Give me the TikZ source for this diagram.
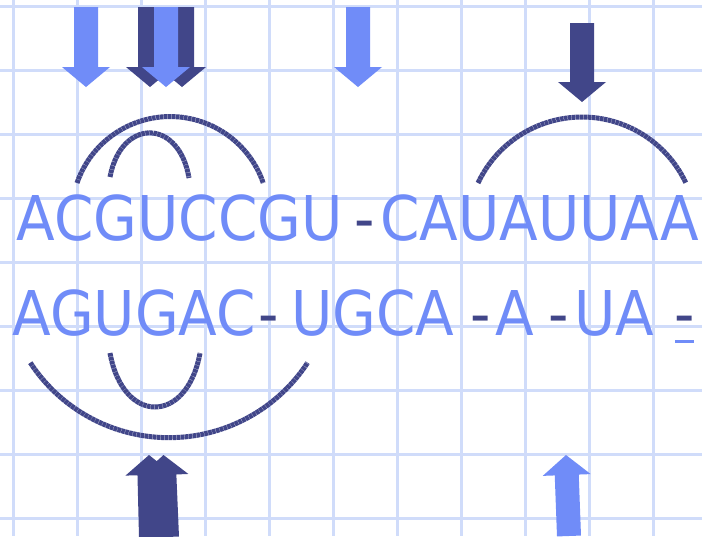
\documentclass[tikz,border=0pt]{standalone}
\usepackage{fontspec}
\usetikzlibrary{calc}
\newfontfamily\seqfont{DejaVu Sans}[FakeStretch=0.915]
\definecolor{gridblue}{RGB}{208,220,250}
\definecolor{basecol}{RGB}{112,140,248}
\definecolor{markcol}{RGB}{65,70,137}

% block arrow: #1 colour, #2 tail coordinate, #3 tip coordinate
\newcommand\blockarrow[3]{%
  \coordinate (bah) at ($(#3)!20pt!(#2)$);
  \fill[#1] ($(#2)!12pt!90:(#3)$) -- ($(bah)!12pt!90:(#3)$) -- ($(bah)!24pt!90:(#3)$)
    -- (#3) -- ($(bah)!24pt!-90:(#3)$) -- ($(bah)!12pt!-90:(#3)$)
    -- ($(#2)!12pt!-90:(#3)$) -- cycle;
}

\tikzset{
  seq/.style={inner sep=0pt, outer sep=0pt, text=basecol,
    font=\seqfont\fontsize{61.7}{70}\selectfont},
  gap/.style={seq, text=markcol},
  pairing/.style={draw=markcol, line width=5pt, dash pattern=on 3.5pt off 0.5pt},
  gridline/.style={draw=gridblue, line width=3pt},
}

\begin{document}
\begin{tikzpicture}[x=1pt,y=-1pt]
\useasboundingbox (0,0) rectangle (702,536);
\fill[white] (0,0) rectangle (702,536);

% squared paper
\foreach \k in {0,...,10} \draw[gridline] ({13.3+64*\k},0) -- ({13.3+64*\k},536);
\foreach \k in {0,...,8} \draw[gridline] (0,{6+64*\k}) -- (702,{6+64*\k});

% the two sequence rows
\node[seq, anchor=base east] (s1) at (342.5,240) {ACGUCCGU};
\node[gap, anchor=base] (g1) at (365,240) {-};
\node[seq, anchor=base east] (s2) at (699.5,240) {CAUAUUAA};

\node[seq, anchor=base east] (s3) at (256,335) {AGUGAC};
\node[gap, anchor=base] (g2) at (269,335) {-};
\node[seq, anchor=base east] (s4) at (454.5,335) {UGCA};
\node[gap, anchor=base] (g3) at (480.5,335) {-};
\node[seq, anchor=base] (s5) at (514.5,335) {A};
\node[gap, anchor=base] (g4) at (559,335) {-};
\node[seq, anchor=base east] (s6) at (654.5,335) {UA};
\node[gap, anchor=base] (g5) at (684.5,335) {-};
\draw[basecol, line width=3pt] (675,341.5) -- (694,341.5);

% base-pairing arcs (y axis points down, so angles run clockwise)
\draw[pairing] (77,183) arc[start angle=-161, end angle=-19, radius=98.5];
\draw[pairing] (110,177) .. controls (121,118) and (179,118) .. (189,178);
\draw[pairing] (478,183) arc[start angle=-154.8, end angle=-25.2, radius=114.9];
\draw[pairing] (30.3,362.7) arc[start angle=146.8, end angle=33.2, radius=165.7];
\draw[pairing] (110,353) .. controls (123,425) and (187,425) .. (200,353);

% markers above
\coordinate (a1t) at (86,7);   \coordinate (a1h) at (86,87);
\coordinate (a2t) at (150,7);  \coordinate (a2h) at (150,87);
\coordinate (a3t) at (182,7);  \coordinate (a3h) at (182,87);
\coordinate (a4t) at (166,7);  \coordinate (a4h) at (166,87);
\coordinate (a5t) at (358,7);  \coordinate (a5h) at (358,87);
\coordinate (a6t) at (582,23); \coordinate (a6h) at (582,102);
\blockarrow{basecol}{a1t}{a1h}
\blockarrow{markcol}{a2t}{a2h}
\blockarrow{markcol}{a3t}{a3h}
\blockarrow{basecol}{a4t}{a4h}
\blockarrow{basecol}{a5t}{a5h}
\blockarrow{markcol}{a6t}{a6h}

% markers below
\coordinate (b1t) at (151,537); \coordinate (b1h) at (149,455);
\coordinate (b2t) at (167,537); \coordinate (b2h) at (163.5,455);
\coordinate (b3t) at (569,536); \coordinate (b3h) at (566,455);
\blockarrow{markcol}{b1t}{b1h}
\blockarrow{markcol}{b2t}{b2h}
\blockarrow{basecol}{b3t}{b3h}
\end{tikzpicture}
\end{document}
